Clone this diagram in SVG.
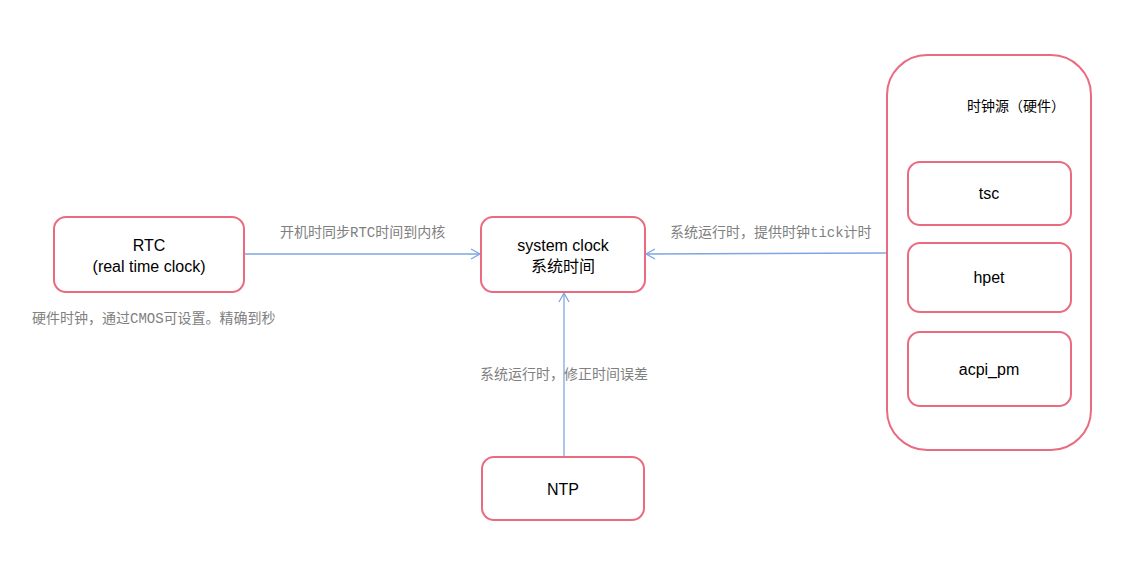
<svg xmlns="http://www.w3.org/2000/svg" width="1136" height="576" viewBox="0 0 1136 576">
<style>
.box{fill:#ffffff;stroke:#ea6b80;stroke-width:2}
.nt{font-family:"Liberation Sans","Noto Sans CJK SC",sans-serif;font-size:16px;fill:#000000;text-anchor:middle}
.lb{font-family:"Liberation Mono","Noto Sans CJK SC",monospace;font-size:14px;fill:#808080}
.edge{fill:none;stroke:#7ea6e0;stroke-width:1.3}
</style>
<defs>
<marker id="arr" markerWidth="12" markerHeight="12" refX="10" refY="6" orient="auto" markerUnits="userSpaceOnUse">
<path d="M1,1 L10,6 L1,11" fill="none" stroke="#7ea6e0" stroke-width="1.3"/>
</marker>
</defs>
<rect width="1136" height="576" fill="#ffffff"/>
<g id="connectors">
<line class="edge" x1="245" y1="254" x2="480" y2="254" marker-end="url(#arr)"/>
<line class="edge" x1="886" y1="253" x2="646" y2="254" marker-end="url(#arr)"/>
<line class="edge" x1="564" y1="456" x2="564" y2="293" marker-end="url(#arr)"/>
</g>
<g id="rtc">
<rect class="box" x="54" y="217" width="190" height="75" rx="12"/>
<text class="nt" x="149" y="251">RTC</text>
<text class="nt" x="149" y="272">(real time clock)</text>
</g>
<g id="sysclock">
<rect class="box" x="481" y="217" width="164" height="75" rx="12"/>
<text class="nt" x="563" y="251">system clock</text>
<text class="nt" x="563" y="272">系统时间</text>
</g>
<g id="ntp">
<rect class="box" x="482" y="457" width="162" height="63" rx="12"/>
<text class="nt" x="563" y="495">NTP</text>
</g>
<g id="clocksource">
<rect class="box" x="887" y="55" width="204" height="395" rx="40"/>
<text x="967" y="111" style="font-family:'Noto Sans CJK SC',sans-serif;font-size:14px;fill:#000000">时钟源（硬件）</text>
</g>
<g id="tsc">
<rect class="box" x="908" y="162" width="163" height="63" rx="12"/>
<text class="nt" x="989" y="199">tsc</text>
</g>
<g id="hpet">
<rect class="box" x="908" y="243" width="163" height="69" rx="12"/>
<text class="nt" x="989" y="283">hpet</text>
</g>
<g id="acpi_pm">
<rect class="box" x="908" y="332" width="163" height="74" rx="12"/>
<text class="nt" x="989" y="375">acpi_pm</text>
</g>
<g id="labels">
<text class="lb" x="280" y="237">开机时同步RTC时间到内核</text>
<text class="lb" x="32" y="323">硬件时钟，通过CMOS可设置。精确到秒</text>
<text class="lb" x="670" y="237">系统运行时，提供时钟tick计时</text>
<text class="lb" x="564" y="379" text-anchor="middle">系统运行时，修正时间误差</text>
</g>
</svg>
